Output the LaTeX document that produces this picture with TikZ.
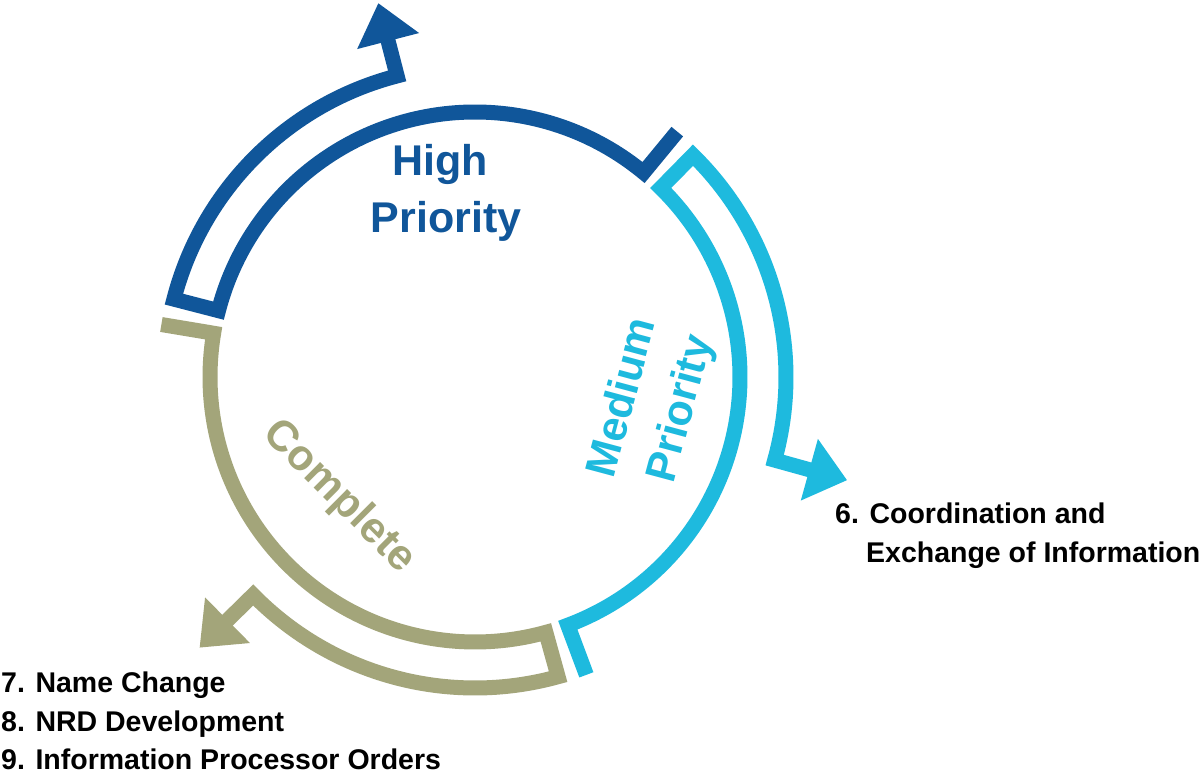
\documentclass[tikz,border=0pt]{standalone}
\usepackage{fontspec}
\setmainfont{Liberation Sans}
\definecolor{hiblue}{RGB}{16,86,154}
\definecolor{medcyan}{RGB}{30,186,222}
\definecolor{doneolive}{RGB}{163,165,122}
\newcommand\prioseg[2]{%
\begin{scope}[shift={(475,399)},rotate=#2]
\draw[#1,line width=15pt,line join=miter,miter limit=10]
  (-54:318) -- (-54:265) arc[start angle=-54,end angle=61,radius=265]
  -- (61:311) arc[start angle=61,end angle=0,radius=311] -- (0:349);
\fill[#1] (347,32) -- (386,0) -- (347,-32) -- cycle;
\end{scope}}
\tikzset{
  bigtxt/.style={font=\fontsize{43}{50}\selectfont\bfseries, inner sep=0pt},
  listtxt/.style={font=\fontsize{28.5}{34}\selectfont\bfseries, inner sep=0pt, anchor=base west, text=black}
}
\begin{document}
\begin{tikzpicture}[x=1pt,y=1pt]
\useasboundingbox[fill=white] (0,0) rectangle (1203,776);
\prioseg{hiblue}{104.5}
\prioseg{medcyan}{-15.5}
\prioseg{doneolive}{-135.5}
\node[bigtxt, text=hiblue, anchor=base] (hi1) at (440,600) {High};
\node[bigtxt, text=hiblue, anchor=base] (hi2) at (446,543) {Priority};
\node[bigtxt, text=medcyan, rotate=75] (md1) at (620,379) {Medium};
\node[bigtxt, text=medcyan, rotate=75] (md2) at (682,367) {Priority};
\node[bigtxt, text=doneolive, rotate=-45] (cp) at (339,279) {Complete};
\node[listtxt] (c6a) at (835,252) {6. Coordination and};
\node[listtxt] (c6b) at (866,213) {Exchange of Information};
\node[listtxt] (l7) at (1,83) {7. Name Change};
\node[listtxt] (l8) at (1,44) {8. NRD Development};
\node[listtxt] (l9) at (1,6) {9. Information Processor Orders};
\end{tikzpicture}
\end{document}
